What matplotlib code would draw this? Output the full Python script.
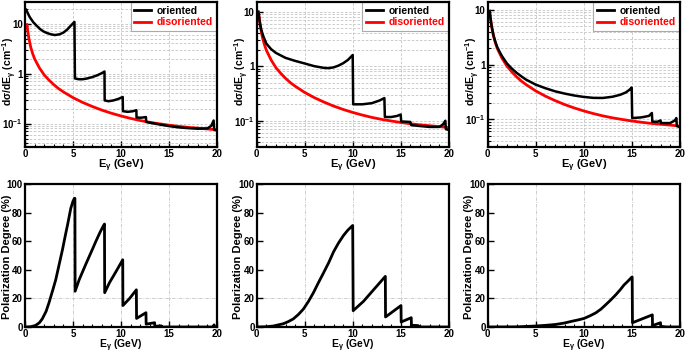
import numpy as np
import matplotlib
matplotlib.use("Agg")
import matplotlib.pyplot as plt
from matplotlib.lines import Line2D
from matplotlib.ticker import FixedLocator, FixedFormatter, MultipleLocator, LogLocator, NullFormatter

plt.rcParams['font.family'] = ['Liberation Sans', 'DejaVu Sans']
plt.rcParams['font.weight'] = 'bold'
plt.rcParams['axes.labelweight'] = 'bold'
plt.rcParams['mathtext.fontset'] = 'custom'
plt.rcParams['mathtext.rm'] = 'Liberation Sans:bold'
plt.rcParams['mathtext.it'] = 'Liberation Sans:bold'
plt.rcParams['mathtext.bf'] = 'Liberation Sans:bold'

# ---- data ----
# disoriented crystal (same in all three panels)
e_dis = [0.2, 0.3, 0.4, 0.5, 0.6, 0.8, 1.0, 1.25, 1.5, 2, 2.5, 3, 3.5, 4, 5, 6, 7, 8, 9, 10,
         11, 12, 13, 14, 15, 16, 17, 18, 19, 20]
s_dis = [9.5, 6.8, 5.1, 4.1, 3.35, 2.5, 1.97, 1.6, 1.3, 0.94, 0.74, 0.6, 0.5, 0.43, 0.33, 0.265,
         0.22, 0.186, 0.161, 0.142, 0.127, 0.115, 0.106, 0.099, 0.093, 0.088, 0.084, 0.081, 0.078, 0.075]

# oriented, panel 1
e_or1 = [0.1, 0.2, 0.35, 0.5, 0.7, 0.87, 1.2, 1.56, 1.9, 2.26, 2.7, 3.12, 3.6, 4.0, 4.4, 4.8, 5.15,
         5.2, 5.6, 6.0, 6.5, 7.0, 7.5, 8.0, 8.28, 8.3, 8.7, 9.2, 9.7, 10.18, 10.2, 10.7, 11.2, 11.6,
         11.62, 12.1, 12.6, 12.62, 13.0, 14.0, 15.0, 16.0, 17.0, 18.0, 19.0, 19.4, 19.65, 19.7, 20.0]
s_or1 = [19.0, 17.5, 15.3, 13.4, 11.8, 10.6, 9.1, 7.8, 7.0, 6.5, 6.1, 5.9, 6.1, 6.6, 7.6, 9.2, 10.8,
         0.8, 0.77, 0.77, 0.8, 0.85, 0.92, 1.02, 1.1, 0.29, 0.28, 0.29, 0.31, 0.34, 0.177, 0.172,
         0.176, 0.185, 0.132, 0.131, 0.135, 0.108, 0.104, 0.096, 0.089, 0.084, 0.081, 0.079, 0.08,
         0.09, 0.115, 0.076, 0.072]

# oriented, panel 2
e_or2 = [0.17, 0.25, 0.35, 0.5, 0.7, 1.0, 1.5, 2, 3, 4, 5, 6, 7, 7.5, 8, 8.5, 9, 9.5, 10.0,
         10.05, 11, 12, 12.8, 13.3, 13.35, 14.0, 14.6, 15.0, 15.05, 16.0, 16.1, 17, 18, 19, 19.4,
         19.65, 19.7, 20]
s_or2 = [10.0, 7.8, 6.0, 4.5, 3.5, 2.6, 2.05, 1.75, 1.42, 1.25, 1.12, 1.0, 0.93, 0.92, 0.95, 1.02,
         1.13, 1.3, 1.6, 0.2, 0.2, 0.21, 0.235, 0.26, 0.117, 0.117, 0.122, 0.13, 0.097, 0.095,
         0.083, 0.08, 0.077, 0.077, 0.085, 0.1, 0.07, 0.068]

# oriented, panel 3
e_or3 = [0.2, 0.3, 0.4, 0.5, 0.6, 0.8, 1.0, 1.25, 1.5, 2, 2.5, 3, 3.5, 4, 5, 6, 7, 8, 9, 10, 11,
         12, 13, 13.8, 14.4, 14.8, 15.0, 15.05, 16.0, 16.8, 17.1, 17.15, 17.7, 18.0, 18.05, 19.0,
         19.5, 19.65, 19.7, 20]
s_or3 = [9.5, 6.9, 5.2, 4.2, 3.45, 2.6, 2.08, 1.7, 1.42, 1.05, 0.85, 0.71, 0.61, 0.53, 0.43, 0.37,
         0.325, 0.295, 0.272, 0.256, 0.246, 0.245, 0.258, 0.28, 0.31, 0.35, 0.38, 0.105, 0.108,
         0.115, 0.13, 0.09, 0.09, 0.095, 0.085, 0.085, 0.095, 0.105, 0.075, 0.072]

# polarization degree (%)
e_pol1 = [0, 0.6, 1.1, 1.5, 1.8, 2.2, 2.5, 2.9, 3.2, 3.6, 3.9, 4.2, 4.45, 4.77, 5.0, 5.15, 5.2,
          5.22, 5.64, 6.34, 7.0, 7.39, 7.8, 8.18, 8.28, 8.3, 8.8, 9.5, 10.18, 10.2, 10.9, 11.6,
          11.62, 12.6, 12.62, 13.5, 13.52, 14.2, 14.25, 19.55, 19.7, 19.72, 20]
p_pol1 = [0, 0.2, 1.1, 3, 5.7, 11, 17, 26, 33, 45, 54, 64, 72, 83, 88, 90, 90,
          25, 33, 44, 54, 60, 66, 71, 72, 24, 31, 39, 47, 15, 20, 26,
          6, 10, 2, 3, 0.5, 0.8, 0, 0, 1.5, 0, 0]

e_pol2 = [0, 1.0, 1.74, 2.78, 3.3, 3.82, 4.35, 4.87, 5.4, 5.91, 6.43, 6.95, 7.5, 8.0, 8.5, 9.04,
          9.5, 10.0, 10.05, 11.13, 12.17, 13.4, 13.42, 15.03, 15.05, 16.1, 16.12, 16.8, 17.0, 20]
p_pol2 = [0, 0.2, 0.7, 2.3, 3.8, 5.7, 8.8, 12.6, 18, 24, 31, 37.7, 45, 52.5, 58.5, 64,
          67.8, 71, 11.4, 18, 26, 35.4, 7, 15, 3.5, 6.5, 1.2, 1, 0, 0]

e_pol3 = [0, 3, 5.02, 6.1, 7.1, 8.0, 8.83, 9.45, 10.04, 10.65, 11.26, 11.8, 12.3, 12.8, 13.34,
          13.8, 14.2, 14.6, 14.97, 15.05, 15.08, 17.15, 17.17, 18.0, 18.02, 18.6, 20]
p_pol3 = [0, 0.1, 0.7, 1.2, 1.8, 2.8, 4.1, 5, 6, 7.8, 9.9, 12.5, 15.6, 18.8, 22.5,
          26, 29.4, 32, 34.6, 35, 3, 8.5, 1, 3, 0.5, 0, 0]

oriented = [(e_or1, s_or1), (e_or2, s_or2), (e_or3, s_or3)]
polar = [(e_pol1, p_pol1), (e_pol2, p_pol2), (e_pol3, p_pol3)]
top_ylims = [(0.034, 27), (0.033, 15), (0.031, 14)]

xticks = [0, 5, 10, 15, 20]
grid_col = '#c4c4c4'

fig = plt.figure(figsize=(6.86, 3.53), dpi=100)
W, H = 686.0, 353.0
lefts = [25, 256.7, 487.7]
width = 192


def style_common(ax, xl_pad, xl_size):
    ax.set_xlim(0, 20)
    ax.xaxis.set_major_locator(FixedLocator(xticks))
    ax.xaxis.set_minor_locator(MultipleLocator(1))
    ax.tick_params(which='both', direction='in', top=False, right=False, labelsize=7, pad=1.5)
    ax.tick_params(which='major', length=4, width=1)
    ax.tick_params(which='minor', length=2, width=0.8)
    for lab in ax.get_xticklabels() + ax.get_yticklabels():
        lab.set_fontweight('bold')
    for sp in ax.spines.values():
        sp.set_linewidth(1.6)
        sp.set_zorder(8)
    ax.set_xlabel(r'E$_{\gamma}$ (GeV)', fontsize=xl_size, fontweight='bold', labelpad=xl_pad)


for i in range(3):
    # cross section panels
    ax = fig.add_axes([lefts[i] / W, 1 - 147 / H, width / W, 145 / H])
    ax.set_yscale('log')
    ax.set_ylim(*top_ylims[i])
    ax.plot(e_dis, s_dis, color='#ff0000', lw=2.0, zorder=3)
    ax.plot(oriented[i][0], oriented[i][1], color='black', lw=1.8, zorder=4)
    ax.yaxis.set_major_locator(FixedLocator([0.1, 1, 10]))
    ax.yaxis.set_major_formatter(FixedFormatter([r'10$^{-1}$', '1', '10']))
    ax.yaxis.set_minor_locator(LogLocator(base=10, subs=np.arange(2, 10)))
    ax.yaxis.set_minor_formatter(NullFormatter())
    ax.grid(True, which='both', axis='y', color=grid_col, ls=(0, (3, 2)), lw=0.6)
    ax.grid(True, which='major', axis='x', color=grid_col, ls=(0, (3, 2)), lw=0.6)
    style_common(ax, -1.0, 8)
    ax.set_ylabel(r'd$\sigma$/dE$_{\gamma}$ (cm$^{-1}$)', fontsize=7.5, fontweight='bold')
    ax.yaxis.set_label_coords(-0.032, 0.52)

    handles = [Line2D([], [], color='black', lw=2), Line2D([], [], color='#ff0000', lw=2)]
    leg = ax.legend(handles, ['oriented', 'disoriented'], loc='upper right', borderaxespad=0,
                    fontsize=7.5, handlelength=1.6, handletextpad=0.6, labelspacing=0.15,
                    borderpad=0.35, fancybox=False, framealpha=1, edgecolor='#aaaaaa')
    leg.get_frame().set_linewidth(0.8)
    leg.set_zorder(7)
    for t, c in zip(leg.get_texts(), ['black', '#ff0000']):
        t.set_color(c)
        t.set_fontweight('bold')

    # polarization panels
    ax2 = fig.add_axes([lefts[i] / W, 1 - 327 / H, width / W, 143 / H])
    ax2.plot(polar[i][0], polar[i][1], color='black', lw=2.0, zorder=4)
    ax2.set_ylim(0, 100)
    ax2.yaxis.set_major_locator(MultipleLocator(20))
    ax2.grid(True, which='major', axis='x', color=grid_col, ls=(0, (4, 1.5, 1, 1.5)), lw=0.6)
    ax2.axhline(20, color=grid_col, ls=(0, (4, 1.5, 1, 1.5)), lw=0.6, zorder=1)
    style_common(ax2, -1.0, 7.5)
    ax2.set_ylabel('Polarization Degree (%)', fontsize=8, fontweight='bold')
    ax2.yaxis.set_label_coords(-0.07, 0.49)

fig.savefig('out.png', dpi=100)
